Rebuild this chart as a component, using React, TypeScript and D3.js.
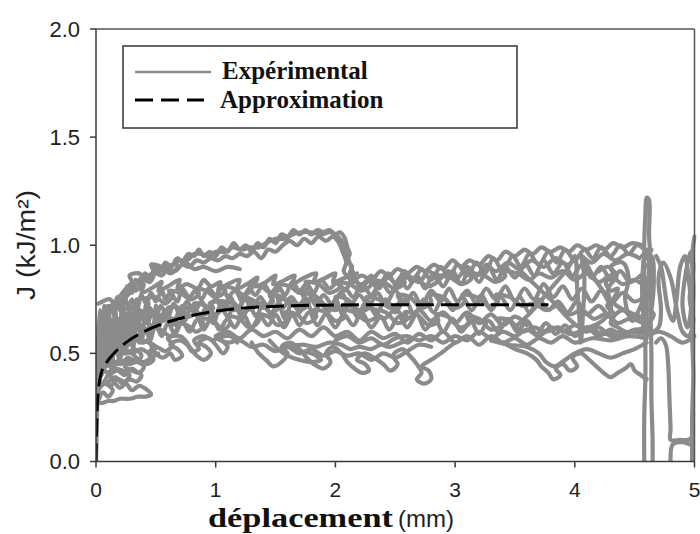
import React from "react";
import * as d3 from "d3";

type P = [number, number];

const xTicks = [0, 1, 2, 3, 4, 5];
const yTicks = [0, 0.5, 1.0, 1.5, 2.0];
const xTickLabels = ["0", "1", "2", "3", "4", "5"];
const yTickLabels = ["0.0", "0.5", "1.0", "1.5", "2.0"];
const legendLabels = ["Expérimental", "Approximation"];

const approximation: P[] = [
  [0, 0], [0.005, 0.15], [0.01, 0.25], [0.02, 0.33], [0.04, 0.4], [0.08, 0.45],
  [0.15, 0.5], [0.25, 0.55], [0.4, 0.6], [0.6, 0.645], [0.8, 0.675], [1.0, 0.695],
  [1.3, 0.712], [1.6, 0.72], [2.0, 0.724], [2.5, 0.725], [3.0, 0.725], [3.78, 0.725],
];

const exp01: P[] = [
  [0, 0], [0.004, 0.1], [0.008, 0.2], [0.012, 0.3], [0.018, 0.4], [0.025, 0.5], [0.035, 0.58], [0.05, 0.64],
  [0.07, 0.7], [0.09, 0.66], [0.12, 0.72], [0.15, 0.68], [0.18, 0.74], [0.2, 0.7], [0.24, 0.76], [0.27, 0.71],
  [0.3, 0.75], [0.34, 0.7], [0.38, 0.77], [0.42, 0.73], [0.46, 0.78], [0.5, 0.74], [0.55, 0.79], [0.58, 0.75],
  [0.62, 0.78], [0.68, 0.74], [0.72, 0.8], [0.78, 0.76], [0.83, 0.79], [0.88, 0.75], [0.94, 0.8], [1.0, 0.77],
  [1.06, 0.81], [1.1, 0.76], [1.16, 0.79], [1.22, 0.75], [1.28, 0.8], [1.33, 0.77], [1.4, 0.82], [1.46, 0.78],
  [1.52, 0.81], [1.58, 0.77], [1.64, 0.83], [1.7, 0.79], [1.76, 0.82], [1.82, 0.78], [1.88, 0.84], [1.95, 0.8],
  [2.02, 0.83], [2.08, 0.79], [2.15, 0.85], [2.22, 0.8], [2.3, 0.86], [2.36, 0.81], [2.44, 0.87], [2.5, 0.82],
  [2.58, 0.88], [2.64, 0.83], [2.72, 0.89], [2.8, 0.84], [2.88, 0.9], [2.95, 0.85], [3.02, 0.91], [3.1, 0.86],
  [3.18, 0.92], [3.25, 0.87], [3.32, 0.94], [3.4, 0.88], [3.48, 0.95], [3.55, 0.9], [3.62, 0.96], [3.7, 0.91],
  [3.78, 0.97], [3.85, 0.92], [3.92, 0.98], [4.0, 0.93], [4.08, 0.98], [4.15, 0.94], [4.22, 0.99], [4.3, 0.95],
  [4.38, 1.0], [4.45, 0.96], [4.52, 1.0], [4.58, 0.98],
];

const exp02: P[] = [
  [0.01, 0.35], [0.02, 0.45], [0.03, 0.55], [0.05, 0.6], [0.08, 0.56], [0.1, 0.63], [0.13, 0.58], [0.16, 0.66],
  [0.19, 0.6], [0.22, 0.67], [0.26, 0.62], [0.3, 0.69], [0.33, 0.63], [0.37, 0.7], [0.4, 0.65], [0.45, 0.71],
  [0.5, 0.66], [0.54, 0.72], [0.6, 0.67], [0.65, 0.73], [0.7, 0.68], [0.76, 0.74], [0.82, 0.69], [0.88, 0.74],
  [0.93, 0.7], [1.0, 0.75], [1.06, 0.7], [1.12, 0.76], [1.18, 0.71], [1.25, 0.75], [1.3, 0.7], [1.37, 0.76],
  [1.43, 0.72], [1.5, 0.77], [1.56, 0.71], [1.63, 0.76], [1.7, 0.72], [1.77, 0.78], [1.84, 0.72], [1.9, 0.77],
  [1.97, 0.73], [2.05, 0.78], [2.12, 0.72], [2.2, 0.77], [2.28, 0.72], [2.35, 0.78], [2.42, 0.73], [2.5, 0.79],
  [2.58, 0.73], [2.65, 0.78], [2.72, 0.72], [2.8, 0.79], [2.88, 0.74], [2.95, 0.8], [3.02, 0.74], [3.1, 0.79],
  [3.18, 0.73], [3.26, 0.8], [3.34, 0.75], [3.42, 0.81], [3.5, 0.74], [3.58, 0.8], [3.66, 0.75], [3.74, 0.82],
  [3.82, 0.76], [3.9, 0.81], [3.98, 0.75], [4.06, 0.8], [4.14, 0.74], [4.22, 0.79], [4.3, 0.73], [4.4, 0.78],
  [4.5, 0.74], [4.6, 0.77],
];

const exp03: P[] = [
  [0.02, 0.3], [0.03, 0.42], [0.05, 0.5], [0.07, 0.46], [0.1, 0.54], [0.13, 0.49], [0.16, 0.57], [0.2, 0.52],
  [0.24, 0.59], [0.28, 0.54], [0.32, 0.6], [0.36, 0.55], [0.4, 0.62], [0.45, 0.57], [0.5, 0.63], [0.55, 0.58],
  [0.6, 0.64], [0.66, 0.59], [0.72, 0.65], [0.78, 0.6], [0.85, 0.66], [0.9, 0.61], [0.97, 0.67], [1.03, 0.61],
  [1.1, 0.66], [1.16, 0.62], [1.23, 0.68], [1.3, 0.62], [1.37, 0.67], [1.44, 0.63], [1.5, 0.68], [1.57, 0.62],
  [1.64, 0.68], [1.7, 0.63], [1.78, 0.69], [1.85, 0.63], [1.92, 0.68], [2.0, 0.62], [2.07, 0.68], [2.15, 0.63],
  [2.22, 0.69], [2.3, 0.62], [2.38, 0.67], [2.45, 0.61], [2.53, 0.67], [2.6, 0.62], [2.68, 0.68], [2.75, 0.61],
  [2.83, 0.66], [2.9, 0.6], [2.98, 0.66], [3.05, 0.6], [3.13, 0.65], [3.2, 0.59], [3.28, 0.65], [3.36, 0.6],
  [3.44, 0.66], [3.52, 0.6], [3.6, 0.65], [3.68, 0.59], [3.76, 0.64], [3.84, 0.59], [3.92, 0.63], [4.0, 0.58],
  [4.1, 0.62], [4.2, 0.58], [4.3, 0.61], [4.4, 0.58], [4.5, 0.61], [4.6, 0.6],
];

const exp04: P[] = [
  [1.0, 0.58], [1.1, 0.6], [1.2, 0.57], [1.3, 0.61], [1.4, 0.58], [1.5, 0.6], [1.6, 0.57], [1.7, 0.61],
  [1.8, 0.58], [1.9, 0.62], [2.0, 0.58], [2.1, 0.6], [2.2, 0.56], [2.3, 0.6], [2.4, 0.57], [2.5, 0.59],
  [2.6, 0.55], [2.7, 0.59], [2.8, 0.56], [2.9, 0.6], [3.0, 0.55], [3.1, 0.58], [3.2, 0.54], [3.3, 0.58],
  [3.4, 0.55], [3.5, 0.57], [3.6, 0.54], [3.7, 0.57], [3.8, 0.55], [3.9, 0.58], [4.0, 0.55], [4.15, 0.57],
  [4.3, 0.56], [4.45, 0.58], [4.6, 0.57],
];

const exp05: P[] = [
  [0.03, 0.6], [0.06, 0.68], [0.1, 0.72], [0.14, 0.7], [0.18, 0.76], [0.22, 0.74], [0.26, 0.8], [0.3, 0.78],
  [0.33, 0.84], [0.37, 0.82], [0.41, 0.87], [0.45, 0.85], [0.5, 0.9], [0.54, 0.88], [0.58, 0.92], [0.63, 0.9],
  [0.68, 0.94], [0.72, 0.92], [0.77, 0.96], [0.82, 0.95], [0.86, 0.98], [0.9, 0.95], [0.95, 0.97], [1.0, 0.95],
  [1.05, 0.99], [1.1, 0.97], [1.15, 1.01], [1.2, 0.98], [1.25, 1.0], [1.3, 0.97], [1.35, 1.01], [1.4, 0.99],
  [1.45, 1.03], [1.5, 1.01], [1.55, 1.05], [1.6, 1.04], [1.65, 1.07], [1.7, 1.05], [1.75, 1.07], [1.8, 1.05],
  [1.85, 1.07], [1.9, 1.06], [1.95, 1.07], [2.0, 1.05], [2.04, 1.06], [2.08, 1.03], [2.1, 0.99], [2.12, 0.96],
  [2.1, 0.93], [2.14, 0.9], [2.12, 0.87], [2.16, 0.84], [2.2, 0.82],
];

const exp06: P[] = [
  [0.05, 0.62], [0.1, 0.68], [0.15, 0.72], [0.2, 0.73], [0.25, 0.77], [0.3, 0.8], [0.35, 0.8], [0.4, 0.84],
  [0.45, 0.83], [0.5, 0.87], [0.55, 0.86], [0.6, 0.89], [0.66, 0.88], [0.72, 0.91], [0.78, 0.9], [0.84, 0.93],
  [0.9, 0.92], [0.96, 0.94], [1.02, 0.93], [1.08, 0.95], [1.14, 0.94], [1.2, 0.96], [1.26, 0.95], [1.32, 0.97],
  [1.38, 0.94], [1.44, 0.98], [1.5, 0.97], [1.56, 1.0], [1.62, 1.02], [1.68, 1.0], [1.74, 1.03], [1.8, 1.01],
  [1.86, 1.04], [1.92, 1.02], [1.98, 1.04], [2.03, 1.01], [2.06, 0.97], [2.09, 0.92], [2.07, 0.88], [2.11, 0.85],
  [2.15, 0.83],
];

const exp07: P[] = [
  [0.0, 0.24], [0.015, 0.27], [0.05, 0.27], [0.1, 0.28], [0.15, 0.28], [0.2, 0.29], [0.28, 0.29], [0.35, 0.3],
  [0.42, 0.3], [0.46, 0.31], [0.43, 0.33], [0.36, 0.35], [0.3, 0.33], [0.25, 0.36], [0.2, 0.34], [0.15, 0.37],
  [0.12, 0.4], [0.18, 0.42], [0.24, 0.4], [0.3, 0.43], [0.36, 0.41], [0.4, 0.44], [0.34, 0.46], [0.27, 0.45],
  [0.2, 0.47], [0.14, 0.45], [0.08, 0.48], [0.12, 0.5], [0.2, 0.52], [0.3, 0.5], [0.38, 0.52], [0.45, 0.5],
  [0.5, 0.53], [0.44, 0.55], [0.35, 0.56], [0.25, 0.55], [0.15, 0.57], [0.08, 0.55], [0.04, 0.5],
];

const exp08: P[] = [
  [0.45, 0.55], [0.5, 0.5], [0.56, 0.48], [0.62, 0.5], [0.66, 0.47], [0.72, 0.49], [0.68, 0.52], [0.62, 0.54],
  [0.7, 0.56], [0.78, 0.53], [0.84, 0.49], [0.9, 0.47], [0.96, 0.5], [0.92, 0.53], [0.86, 0.55], [0.94, 0.57],
  [1.0, 0.54], [1.06, 0.5], [1.1, 0.53], [1.04, 0.57], [1.12, 0.58], [1.18, 0.55],
];

const exp09: P[] = [
  [1.3, 0.55], [1.36, 0.5], [1.42, 0.47], [1.48, 0.44], [1.55, 0.46], [1.6, 0.5], [1.55, 0.53], [1.62, 0.55],
  [1.7, 0.52], [1.76, 0.48], [1.82, 0.45], [1.9, 0.43], [1.96, 0.46], [1.92, 0.5], [1.98, 0.53], [2.05, 0.5],
  [2.1, 0.46], [2.16, 0.43], [2.22, 0.41], [2.28, 0.42], [2.25, 0.45], [2.18, 0.47], [2.24, 0.5], [2.32, 0.48],
  [2.4, 0.45], [2.46, 0.42], [2.52, 0.45], [2.48, 0.49], [2.56, 0.52], [2.62, 0.49], [2.68, 0.45], [2.72, 0.41],
  [2.68, 0.38], [2.74, 0.36], [2.8, 0.38], [2.78, 0.42], [2.72, 0.44], [2.8, 0.47], [2.88, 0.5], [2.95, 0.53],
  [3.0, 0.55],
];

const exp10: P[] = [
  [1.0, 0.57], [1.1, 0.55], [1.2, 0.56], [1.3, 0.53], [1.4, 0.54], [1.5, 0.51], [1.6, 0.53], [1.7, 0.5],
  [1.8, 0.52], [1.9, 0.49], [2.0, 0.51], [2.1, 0.49], [2.2, 0.5], [2.3, 0.47], [2.4, 0.5], [2.5, 0.48],
  [2.6, 0.51], [2.7, 0.54], [2.8, 0.53],
];

const exp11: P[] = [
  [3.4, 0.55], [3.5, 0.52], [3.6, 0.5], [3.68, 0.47], [3.72, 0.44], [3.78, 0.41], [3.82, 0.38], [3.88, 0.4],
  [3.84, 0.43], [3.9, 0.45], [3.96, 0.42], [4.02, 0.44], [3.98, 0.48], [4.05, 0.5], [4.12, 0.47], [4.18, 0.44],
  [4.24, 0.41], [4.3, 0.39], [4.36, 0.41], [4.42, 0.43], [4.47, 0.45], [4.5, 0.42], [4.55, 0.4], [4.6, 0.38],
];

const exp12: P[] = [
  [3.3, 0.56], [3.45, 0.54], [3.6, 0.53], [3.7, 0.5], [3.76, 0.46], [3.83, 0.44], [3.92, 0.47], [4.0, 0.5],
  [4.1, 0.52], [4.2, 0.5], [4.3, 0.48], [4.4, 0.5], [4.5, 0.52], [4.6, 0.55],
];

const exp13: P[] = [
  [3.5, 0.62], [3.65, 0.7], [3.8, 0.8], [3.95, 0.9], [4.0, 0.95], [4.02, 0.8], [4.04, 0.65], [4.05, 0.55],
  [4.07, 0.7], [4.08, 0.85], [4.06, 0.95], [4.15, 0.86], [4.25, 0.78], [4.35, 0.72], [4.5, 0.68], [4.6, 0.66],
];

const exp14: P[] = [
  [3.55, 0.88], [3.7, 0.8], [3.85, 0.72], [3.95, 0.66], [4.05, 0.62], [4.2, 0.64], [4.3, 0.7], [4.28, 0.8],
  [4.35, 0.86], [4.3, 0.9], [4.4, 0.92], [4.45, 0.85], [4.42, 0.75], [4.48, 0.65], [4.55, 0.72], [4.6, 0.8],
];

const exp15: P[] = [
  [4.2, 0.88], [4.28, 0.9], [4.32, 0.86], [4.26, 0.83], [4.3, 0.79], [4.36, 0.8], [4.32, 0.75], [4.27, 0.72],
  [4.33, 0.68], [4.3, 0.64], [4.36, 0.62], [4.42, 0.6],
];

const exp16: P[] = [
  [4.57, 0.6], [4.58, 0.8], [4.58, 1.0], [4.59, 1.15], [4.6, 1.22], [4.62, 1.21], [4.62, 1.05], [4.63, 0.95],
  [4.63, 0.75], [4.64, 0.5], [4.64, 0.3], [4.65, 0.1], [4.65, 0],
];

const exp17: P[] = [
  [4.58, 0.0], [4.58, 0.2], [4.59, 0.4], [4.59, 0.6], [4.6, 0.75], [4.62, 0.9], [4.6, 0.98], [4.57, 0.9],
  [4.57, 0.7], [4.6, 0.6], [4.64, 0.7], [4.66, 0.85], [4.64, 0.95], [4.56, 0.95], [4.64, 0.98], [4.57, 0.92],
  [4.65, 0.88], [4.57, 0.82], [4.65, 0.78], [4.58, 0.72], [4.66, 0.68], [4.58, 0.62],
];

const exp18: P[] = [
  [4.68, 0.55], [4.72, 0.57], [4.76, 0.54], [4.78, 0.45], [4.79, 0.3], [4.8, 0.15], [4.8, 0.1], [4.88, 0.1],
  [4.95, 0.1], [4.98, 0.11], [4.97, 0.08], [4.9, 0.09], [4.82, 0.08], [4.8, 0.0],
];

const exp19: P[] = [
  [4.98, 0], [4.98, 0.2], [4.99, 0.4], [4.98, 0.6], [4.99, 0.8], [4.98, 0.95], [5.0, 1.04],
];

const exp20: P[] = [
  [4.68, 0.95], [4.72, 0.9], [4.75, 0.8], [4.78, 0.7], [4.82, 0.65], [4.85, 0.75], [4.88, 0.9], [4.92, 0.95],
  [4.95, 0.85], [4.97, 0.7], [4.94, 0.62], [4.9, 0.72], [4.93, 0.88], [4.97, 0.97], [4.99, 0.9], [4.96, 0.75],
  [4.99, 0.65], [4.95, 0.58], [4.9, 0.6], [4.86, 0.68], [4.8, 0.85], [4.74, 0.92], [4.7, 0.85], [4.72, 0.7],
  [4.7, 0.62], [4.6, 0.58], [4.7, 0.6], [4.8, 0.58], [4.9, 0.55], [5.0, 0.58],
];

const exp21: P[] = [
  [2.15, 0.83], [2.22, 0.86], [2.3, 0.84], [2.38, 0.88], [2.45, 0.86], [2.52, 0.89], [2.6, 0.87], [2.68, 0.9],
  [2.75, 0.88], [2.82, 0.91], [2.9, 0.89], [2.98, 0.93], [3.05, 0.9], [3.12, 0.93], [3.2, 0.91], [3.28, 0.95],
  [3.35, 0.93], [3.42, 0.97], [3.5, 0.95], [3.58, 0.98], [3.65, 0.96], [3.72, 0.99], [3.8, 0.97], [3.88, 0.99],
  [3.95, 0.97], [4.02, 1.0], [4.1, 0.98], [4.18, 1.0], [4.25, 0.98], [4.32, 1.01], [4.4, 0.99], [4.48, 1.01],
  [4.56, 1.0],
];

const exp22: P[] = [
  [2.0, 0.74], [2.08, 0.8], [2.15, 0.76], [2.22, 0.82], [2.3, 0.77], [2.38, 0.83], [2.46, 0.78], [2.54, 0.85],
  [2.6, 0.8], [2.68, 0.86], [2.75, 0.8], [2.82, 0.87], [2.9, 0.81], [2.98, 0.88], [3.05, 0.82], [3.12, 0.89],
  [3.2, 0.83], [3.28, 0.9], [3.35, 0.84], [3.42, 0.9], [3.5, 0.85], [3.58, 0.92], [3.66, 0.86], [3.74, 0.93],
  [3.82, 0.87], [3.9, 0.92], [3.98, 0.86], [4.06, 0.91], [4.14, 0.85], [4.22, 0.9], [4.3, 0.84], [4.38, 0.88],
  [4.46, 0.83], [4.55, 0.86],
];

const exp23: P[] = [
  [0.01, 0.45], [0.03, 0.7], [0.05, 0.5], [0.07, 0.72], [0.09, 0.45], [0.11, 0.68], [0.13, 0.42], [0.16, 0.7],
  [0.19, 0.48], [0.22, 0.74], [0.25, 0.5], [0.28, 0.72], [0.31, 0.52], [0.34, 0.75], [0.38, 0.55], [0.42, 0.73],
  [0.46, 0.56], [0.5, 0.72],
];

const exp24: P[] = [
  [0.3, 0.62], [0.36, 0.68], [0.42, 0.64], [0.48, 0.69], [0.52, 0.62], [0.58, 0.7], [0.64, 0.63], [0.7, 0.7],
  [0.74, 0.65], [0.8, 0.72], [0.86, 0.66], [0.92, 0.71], [0.98, 0.64], [1.04, 0.72], [1.1, 0.67], [1.16, 0.73],
  [1.22, 0.66], [1.28, 0.72], [1.34, 0.67], [1.4, 0.74], [1.46, 0.68], [1.52, 0.73], [1.58, 0.66], [1.64, 0.74],
  [1.7, 0.69], [1.76, 0.74], [1.82, 0.67], [1.88, 0.74], [1.94, 0.69], [2.0, 0.75], [2.06, 0.68], [2.12, 0.74],
  [2.18, 0.67], [2.26, 0.74], [2.34, 0.68], [2.42, 0.75], [2.5, 0.69], [2.58, 0.75], [2.66, 0.68], [2.74, 0.75],
  [2.82, 0.69], [2.9, 0.76], [2.98, 0.7], [3.06, 0.76], [3.14, 0.7], [3.22, 0.77], [3.3, 0.7], [3.38, 0.76],
  [3.46, 0.7], [3.54, 0.76], [3.62, 0.69], [3.7, 0.75], [3.78, 0.7], [3.86, 0.74], [3.94, 0.69], [4.02, 0.74],
  [4.1, 0.68], [4.2, 0.72], [4.3, 0.67], [4.4, 0.7], [4.5, 0.66], [4.6, 0.68],
];

const exp25: P[] = [
  [0.2, 0.74], [0.28, 0.78], [0.26, 0.81], [0.33, 0.79], [0.4, 0.82], [0.38, 0.78], [0.46, 0.8], [0.55, 0.83],
  [0.52, 0.79], [0.6, 0.81], [0.7, 0.84], [0.68, 0.8], [0.76, 0.82], [0.85, 0.8], [0.9, 0.84], [0.96, 0.81],
  [1.04, 0.83], [1.02, 0.79], [1.1, 0.82], [1.2, 0.84], [1.18, 0.8], [1.26, 0.82], [1.35, 0.85], [1.32, 0.81],
  [1.42, 0.83], [1.5, 0.86], [1.48, 0.82], [1.58, 0.84], [1.66, 0.86], [1.64, 0.82], [1.74, 0.85], [1.84, 0.87],
  [1.82, 0.83], [1.92, 0.85], [2.0, 0.87], [1.98, 0.83], [2.08, 0.85], [2.18, 0.87],
];

const exp26: P[] = [
  [0.1, 0.6], [0.15, 0.65], [0.2, 0.63], [0.25, 0.68], [0.22, 0.7], [0.3, 0.71], [0.38, 0.69], [0.44, 0.73],
  [0.41, 0.75], [0.5, 0.76], [0.58, 0.73], [0.64, 0.77], [0.61, 0.79], [0.7, 0.78], [0.8, 0.75], [0.86, 0.78],
  [0.83, 0.8], [0.92, 0.79], [1.0, 0.76], [1.08, 0.79], [1.05, 0.81], [1.15, 0.8], [1.24, 0.77], [1.3, 0.8],
  [1.27, 0.82], [1.38, 0.81], [1.46, 0.78], [1.54, 0.8], [1.5, 0.82], [1.62, 0.81], [1.7, 0.78], [1.78, 0.81],
  [1.75, 0.83], [1.86, 0.82], [1.95, 0.78], [2.04, 0.81], [2.0, 0.83], [2.12, 0.82], [2.22, 0.79], [2.3, 0.82],
  [2.27, 0.84], [2.4, 0.83], [2.5, 0.8], [2.58, 0.83], [2.55, 0.85], [2.68, 0.84], [2.78, 0.81], [2.86, 0.84],
  [2.83, 0.86], [2.96, 0.85], [3.06, 0.82], [3.14, 0.85], [3.1, 0.87], [3.24, 0.86], [3.34, 0.83], [3.42, 0.86],
  [3.38, 0.88], [3.52, 0.87], [3.62, 0.84], [3.7, 0.87], [3.8, 0.85], [3.9, 0.88], [4.0, 0.84], [4.1, 0.87],
  [4.2, 0.83], [4.3, 0.86], [4.4, 0.82], [4.5, 0.84], [4.6, 0.8],
];

const exp27: P[] = [
  [0.05, 0.55], [0.1, 0.58], [0.14, 0.56], [0.18, 0.61], [0.24, 0.6], [0.22, 0.64], [0.3, 0.65], [0.36, 0.62],
  [0.42, 0.66], [0.4, 0.69], [0.5, 0.68], [0.56, 0.65], [0.62, 0.69], [0.6, 0.71], [0.7, 0.71], [0.78, 0.67],
  [0.84, 0.7], [0.82, 0.73], [0.92, 0.72], [1.0, 0.68], [1.06, 0.72], [1.04, 0.74], [1.14, 0.73], [1.22, 0.69],
  [1.3, 0.72], [1.28, 0.74], [1.38, 0.73], [1.46, 0.69], [1.54, 0.72], [1.52, 0.75], [1.62, 0.74], [1.7, 0.7],
  [1.78, 0.73], [1.76, 0.75], [1.86, 0.74], [1.94, 0.7], [2.02, 0.73], [2.0, 0.76], [2.1, 0.75], [2.2, 0.7],
  [2.28, 0.73], [2.26, 0.76], [2.36, 0.75], [2.46, 0.71], [2.54, 0.74], [2.52, 0.77], [2.62, 0.76], [2.72, 0.71],
  [2.8, 0.74], [2.78, 0.77], [2.9, 0.76], [3.0, 0.71], [3.08, 0.74], [3.06, 0.77], [3.18, 0.76], [3.28, 0.72],
  [3.36, 0.74], [3.34, 0.77], [3.46, 0.76], [3.56, 0.72], [3.66, 0.73], [3.76, 0.7], [3.86, 0.72], [3.96, 0.68],
  [4.06, 0.7], [4.16, 0.66], [4.26, 0.68], [4.36, 0.64], [4.46, 0.66], [4.6, 0.63],
];

const exp28: P[] = [
  [0.2, 0.5], [0.26, 0.55], [0.24, 0.58], [0.32, 0.57], [0.4, 0.55], [0.46, 0.59], [0.44, 0.62], [0.54, 0.61],
  [0.62, 0.58], [0.68, 0.62], [0.66, 0.64], [0.76, 0.63], [0.84, 0.6], [0.9, 0.63], [0.88, 0.66], [0.98, 0.65],
  [1.06, 0.61], [1.12, 0.64], [1.1, 0.67], [1.2, 0.66], [1.28, 0.62], [1.36, 0.65], [1.34, 0.68], [1.44, 0.67],
  [1.52, 0.63], [1.6, 0.66], [1.58, 0.69], [1.68, 0.68], [1.76, 0.64], [1.84, 0.67], [1.82, 0.7], [1.92, 0.69],
  [2.0, 0.65], [2.08, 0.67], [2.06, 0.7], [2.16, 0.69], [2.26, 0.65], [2.34, 0.67], [2.32, 0.7], [2.42, 0.69],
  [2.52, 0.64], [2.6, 0.66], [2.58, 0.69], [2.68, 0.68], [2.78, 0.63], [2.86, 0.65], [2.84, 0.68], [2.94, 0.67],
  [3.04, 0.62], [3.12, 0.64], [3.1, 0.67], [3.2, 0.66], [3.3, 0.61], [3.38, 0.63], [3.36, 0.66], [3.46, 0.65],
  [3.56, 0.6], [3.66, 0.62], [3.76, 0.6], [3.86, 0.62], [3.96, 0.59], [4.1, 0.61], [4.25, 0.59], [4.4, 0.6],
  [4.6, 0.59],
];

const exp29: P[] = [
  [0.02, 0.38], [0.06, 0.42], [0.04, 0.46], [0.09, 0.44], [0.14, 0.48], [0.11, 0.52], [0.17, 0.5], [0.22, 0.54],
  [0.19, 0.57], [0.26, 0.56], [0.3, 0.6], [0.27, 0.63], [0.34, 0.62], [0.3, 0.58], [0.24, 0.52], [0.18, 0.46],
  [0.12, 0.42], [0.08, 0.38], [0.04, 0.35], [0.03, 0.4], [0.06, 0.5], [0.04, 0.56], [0.08, 0.6], [0.05, 0.65],
  [0.1, 0.66], [0.08, 0.7], [0.14, 0.72], [0.12, 0.75], [0.02, 0.73],
];

const exp30: P[] = [
  [0.02, 0.33], [0.07, 0.36], [0.12, 0.35], [0.18, 0.38], [0.24, 0.37], [0.28, 0.4], [0.22, 0.42], [0.16, 0.43],
  [0.1, 0.41], [0.06, 0.44], [0.12, 0.47], [0.2, 0.45], [0.27, 0.48], [0.33, 0.46], [0.38, 0.49], [0.32, 0.52],
  [0.25, 0.5], [0.18, 0.53], [0.12, 0.56], [0.2, 0.58], [0.28, 0.6], [0.22, 0.62], [0.15, 0.6], [0.1, 0.63],
  [0.16, 0.66], [0.24, 0.65], [0.3, 0.68],
];

const exp31: P[] = [
  [0.3, 0.5], [0.36, 0.47], [0.42, 0.45], [0.48, 0.47], [0.44, 0.5], [0.5, 0.53], [0.58, 0.51], [0.64, 0.54],
  [0.6, 0.57], [0.7, 0.58], [0.76, 0.55], [0.8, 0.51], [0.86, 0.52], [0.82, 0.56], [0.9, 0.58], [0.98, 0.56],
  [1.02, 0.58], [1.08, 0.6],
];

const exp32: P[] = [
  [1.45, 0.56], [1.52, 0.52], [1.6, 0.49], [1.7, 0.47], [1.8, 0.46], [1.88, 0.47], [1.8, 0.5], [1.7, 0.51],
  [1.62, 0.53], [1.72, 0.54], [1.84, 0.53], [1.95, 0.55], [2.05, 0.54], [2.12, 0.52], [2.2, 0.53], [2.3, 0.52],
  [2.38, 0.54], [2.45, 0.53], [2.55, 0.55], [2.65, 0.57],
];

const exp33: P[] = [
  [0.25, 0.78], [0.32, 0.81], [0.38, 0.85], [0.44, 0.86], [0.5, 0.88], [0.57, 0.9], [0.64, 0.91], [0.7, 0.93],
  [0.76, 0.93], [0.82, 0.96], [0.88, 0.96], [0.94, 0.95], [1.0, 0.97], [1.08, 0.97], [1.14, 0.99], [1.22, 0.98],
  [1.28, 0.99], [1.36, 0.99], [1.42, 1.01], [1.5, 1.03], [1.58, 1.03], [1.64, 1.05], [1.72, 1.06], [1.8, 1.06],
  [1.88, 1.05], [1.96, 1.06], [2.02, 1.04], [2.07, 1.0], [2.1, 0.95], [2.13, 0.9], [2.16, 0.86],
];

const exp34: P[] = [
  [0.4, 0.6], [0.47, 0.63], [0.53, 0.66], [0.5, 0.68], [0.58, 0.67], [0.66, 0.66], [0.74, 0.69], [0.72, 0.72],
  [0.8, 0.7], [0.9, 0.68], [0.98, 0.71], [0.95, 0.73], [1.05, 0.74], [1.15, 0.7], [1.22, 0.73], [1.2, 0.76],
  [1.3, 0.75], [1.4, 0.71], [1.48, 0.74], [1.45, 0.77], [1.56, 0.76], [1.66, 0.72], [1.74, 0.75], [1.72, 0.78],
  [1.82, 0.77], [1.92, 0.72], [2.0, 0.7], [2.1, 0.73], [2.2, 0.69], [2.3, 0.71], [2.4, 0.66], [2.5, 0.7],
  [2.6, 0.66], [2.7, 0.7], [2.8, 0.65], [2.9, 0.69], [3.0, 0.64], [3.1, 0.69], [3.2, 0.64], [3.3, 0.68],
  [3.4, 0.63], [3.5, 0.67], [3.6, 0.63],
];

const exp35: P[] = [
  [2.2, 0.8], [2.28, 0.84], [2.36, 0.8], [2.44, 0.85], [2.52, 0.82], [2.6, 0.86], [2.7, 0.83], [2.78, 0.88],
  [2.86, 0.84], [2.94, 0.88], [3.02, 0.85], [3.1, 0.9], [3.18, 0.86], [3.26, 0.91], [3.34, 0.88], [3.44, 0.92],
  [3.54, 0.89], [3.64, 0.93], [3.74, 0.9], [3.84, 0.94], [3.94, 0.91], [4.04, 0.95], [4.14, 0.92], [4.24, 0.96],
  [4.34, 0.93], [4.44, 0.96], [4.54, 0.94],
];

const exp36: P[] = [
  [2.0, 0.56], [2.1, 0.58], [2.2, 0.55], [2.3, 0.57], [2.4, 0.54], [2.5, 0.57], [2.6, 0.58], [2.7, 0.56],
  [2.8, 0.58], [2.9, 0.55], [3.0, 0.58], [3.1, 0.56], [3.2, 0.6], [3.3, 0.57], [3.4, 0.6], [3.5, 0.58],
  [3.6, 0.61], [3.7, 0.58], [3.8, 0.62], [3.9, 0.6], [4.0, 0.63], [4.1, 0.6], [4.2, 0.62], [4.3, 0.58],
  [4.45, 0.6], [4.6, 0.62],
];

const exp37: P[] = [
  [0.1, 0.7], [0.18, 0.75], [0.25, 0.8], [0.3, 0.83], [0.28, 0.86], [0.36, 0.87], [0.42, 0.84], [0.48, 0.88],
  [0.46, 0.91], [0.55, 0.9], [0.62, 0.87], [0.68, 0.9], [0.66, 0.93], [0.75, 0.92], [0.82, 0.89], [0.9, 0.9],
  [1.0, 0.88], [1.1, 0.9], [1.2, 0.89],
];

const exp38: P[] = [
  [0.02, 0.28], [0.06, 0.32], [0.1, 0.3], [0.14, 0.33], [0.1, 0.36], [0.16, 0.39], [0.22, 0.36], [0.28, 0.38],
  [0.34, 0.37], [0.38, 0.4], [0.3, 0.42], [0.24, 0.44], [0.3, 0.47], [0.4, 0.46], [0.46, 0.48], [0.52, 0.5],
];

const experimental: P[][] = [
  exp01, exp02, exp03, exp04, exp05, exp06, exp07, exp08, exp09, exp10, exp11, exp12, exp13,
  exp14, exp15, exp16, exp17, exp18, exp19, exp20, exp21, exp22, exp23, exp24, exp25, exp26,
  exp27, exp28, exp29, exp30, exp31, exp32, exp33, exp34, exp35, exp36, exp37, exp38,
];

const W = 700;
const H = 534;
const M = { left: 96, right: 694.5, top: 29, bottom: 461.5 };

export default function App() {
  const x = d3.scaleLinear().domain([0, 5]).range([M.left, M.right]);
  const y = d3.scaleLinear().domain([0, 2]).range([M.bottom, M.top]);
  const line = d3
    .line<P>()
    .x((d) => x(d[0]))
    .y((d) => y(d[1]))
    .curve(d3.curveCatmullRom.alpha(0.5));
  const smooth = d3
    .line<P>()
    .x((d) => x(d[0]))
    .y((d) => y(d[1]))
    .curve(d3.curveMonotoneX);

  const grey = "#8b8b8b";
  const axisColor = "#3a3a3a";
  const sans = "'Liberation Sans', Arial, sans-serif";
  const serif = "'Liberation Serif', 'Times New Roman', serif";

  return (
    <svg
      width={W}
      height={H}
      style={{ position: "absolute", left: 0, top: 0, background: "#fff" }}
    >
      <defs>
        <clipPath id="plot">
          <rect x={M.left} y={M.top - 2} width={M.right - M.left + 2} height={M.bottom - M.top + 2} />
        </clipPath>
      </defs>

      <g clipPath="url(#plot)">
        {experimental.map((s, i) => (
          <path
            key={i}
            d={line(s) || ""}
            fill="none"
            stroke={grey}
            strokeWidth={4.2}
            strokeLinejoin="round"
            strokeLinecap="round"
          />
        ))}
        <path
          d={smooth(approximation) || ""}
          fill="none"
          stroke="#000"
          strokeWidth={3}
          strokeDasharray="18 7"
        />
      </g>

      <line x1={M.left} x2={M.right} y1={M.top} y2={M.top} stroke="#555" strokeWidth={1.5} />
      <line x1={M.right} x2={M.right} y1={M.top} y2={M.bottom} stroke="#555" strokeWidth={1.5} />
      <line x1={M.left} x2={M.left} y1={M.top} y2={M.bottom} stroke={axisColor} strokeWidth={1.5} />
      <line x1={M.left} x2={M.right} y1={M.bottom} y2={M.bottom} stroke={axisColor} strokeWidth={1.5} />

      {yTicks.map((t, i) => (
        <g key={"y" + i}>
          <line x1={M.left - 6} x2={M.left} y1={y(t)} y2={y(t)} stroke={axisColor} strokeWidth={1.5} />
          <text
            x={M.left - 16}
            y={y(t)}
            dy="0.36em"
            textAnchor="end"
            fontFamily={sans}
            fontSize={22}
            fill="#222"
          >
            {yTickLabels[i]}
          </text>
        </g>
      ))}

      {xTicks.map((t, i) => (
        <g key={"x" + i}>
          <line x1={x(t)} x2={x(t)} y1={M.bottom} y2={M.bottom + 6} stroke={axisColor} strokeWidth={1.5} />
          <text
            x={x(t)}
            y={497}
            textAnchor="middle"
            fontFamily={sans}
            fontSize={21}
            fill="#222"
          >
            {xTickLabels[i]}
          </text>
        </g>
      ))}

      <text
        transform="translate(35,245) rotate(-90)"
        textAnchor="middle"
        fontFamily={sans}
        fontSize={25}
        fill="#222"
        textLength={110}
        lengthAdjust="spacingAndGlyphs"
      >
        J (kJ/m²)
      </text>
      <text
        x={208}
        y={527}
        fontFamily={serif}
        fontWeight="bold"
        fontSize={27}
        fill="#111"
        textLength={185}
        lengthAdjust="spacingAndGlyphs"
      >
        déplacement
      </text>
      <text x={398} y={527} fontFamily={sans} fontSize={24} fill="#222">
        (mm)
      </text>

      <rect x={123} y={46} width={394} height={82} fill="#fff" stroke="#333" strokeWidth={1.5} />
      <line x1={135} x2={211} y1={72} y2={72} stroke={grey} strokeWidth={2.5} />
      <line x1={135} x2={204} y1={100} y2={100} stroke="#000" strokeWidth={3} strokeDasharray="18 8" />
      <text x={222} y={79} fontFamily={serif} fontWeight="bold" fontSize={25} fill="#111">
        {legendLabels[0]}
      </text>
      <text x={220} y={108} fontFamily={serif} fontWeight="bold" fontSize={25} fill="#111">
        {legendLabels[1]}
      </text>
    </svg>
  );
}
